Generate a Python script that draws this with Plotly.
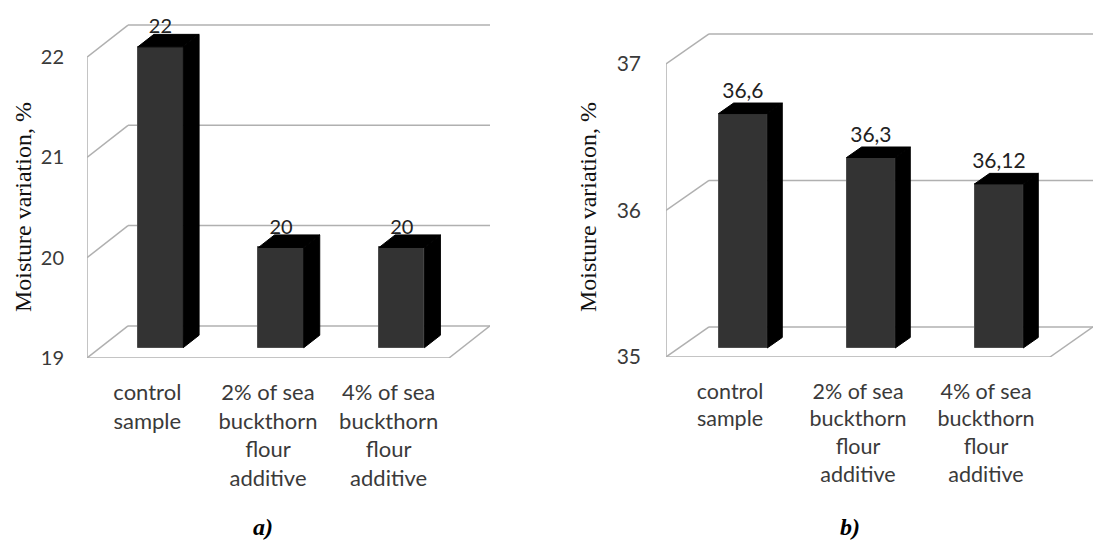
import plotly.graph_objects as go

# ---------------- data ----------------
categories = [
    "control<br>sample",
    "2% of sea<br>buckthorn<br>flour<br>additive",
    "4% of sea<br>buckthorn<br>flour<br>additive",
]
values_a = [22, 20, 20]
labels_a = ["22", "20", "20"]
ticks_a = [19, 20, 21, 22]

values_b = [36.6, 36.3, 36.12]
labels_b = ["36,6", "36,3", "36,12"]
ticks_b = [35, 36, 37]

captions = ["a)", "b)"]
axis_title = "Moisture variation, %"

W, H = 1098, 542
GRID = "#b0b0b0"
FRONT = "#333333"
SIDE = "#000000"
TXT = "#3a3a3a"
SANS = "Lato, 'Open Sans', sans-serif"
SERIF = "'Liberation Serif', 'Times New Roman', serif"

fig = go.Figure()

panels = [
    dict(vals=values_a, labs=labels_a, ticks=ticks_a, xa="x", ya="y",
         DX=0.34, DY=0.32, d0=0.32, d1=0.71, bw=0.375, lab_shift=-0.04,
         xdom=(87, 490), ypix=(7, 358), yr=(19, 22.5), lab_font=20, tick_font=20,
         cat_font=22, standoff_y=22, title_x=23, cap_x=263, cap_y=527),
    dict(vals=values_b, labs=labels_b, ticks=ticks_b, xa="x2", ya="y2",
         DX=0.336, DY=0.205, d0=0.30, d1=0.65, bw=0.38, lab_shift=0.0,
         xdom=(666, 1093), ypix=(20, 357), yr=(35, 37.3), lab_font=21, tick_font=21,
         cat_font=21.5, standoff_y=24, title_x=588, cap_x=850, cap_y=527),
]


def proj(x, y, d, p):
    return x + d * p["DX"], y + d * p["DY"]


def seg(p, a, b):
    fig.add_shape(type="line", xref=p["xa"], yref=p["ya"],
                  x0=a[0], y0=a[1], x1=b[0], y1=b[1],
                  line=dict(color=GRID, width=1.5), layer="below")


for p in panels:
    base = p["ticks"][0]
    top = p["ticks"][-1]
    n = len(p["vals"])
    x0, x1 = -0.5, n - 0.5

    # back wall gridlines and left wall diagonals
    for t in p["ticks"]:
        seg(p, (x0, t), proj(x0, t, 1, p))
        seg(p, proj(x0, t, 1, p), proj(x1, t, 1, p))
    # left wall front edge
    seg(p, (x0, base), (x0, top))
    # floor front edge + right diagonal
    seg(p, (x0, base), (x1, base))
    seg(p, (x1, base), proj(x1, base, 1, p))

    # bar front faces
    cx = [i + p["d0"] * p["DX"] for i in range(n)]
    fig.add_trace(go.Bar(x=cx, y=[v - base for v in p["vals"]],
                         base=base + p["d0"] * p["DY"], width=p["bw"],
                         xaxis=p["xa"], yaxis=p["ya"],
                         marker=dict(color=FRONT, line=dict(color="#4d4d4d", width=1)),
                         showlegend=False, hoverinfo="skip"))

    # side and top faces
    for i, v in enumerate(p["vals"]):
        xl, xr = i - p["bw"] / 2, i + p["bw"] / 2
        d0, d1 = p["d0"], p["d1"]
        side = [proj(xr, base, d0, p), proj(xr, v, d0, p), proj(xr, v, d1, p), proj(xr, base, d1, p)]
        topf = [proj(xl, v, d0, p), proj(xr, v, d0, p), proj(xr, v, d1, p), proj(xl, v, d1, p)]
        for poly in (side, topf):
            fig.add_trace(go.Scatter(x=[q[0] for q in poly] + [poly[0][0]],
                                     y=[q[1] for q in poly] + [poly[0][1]],
                                     mode="lines", fill="toself", fillcolor=SIDE,
                                     line=dict(color=SIDE, width=1),
                                     xaxis=p["xa"], yaxis=p["ya"],
                                     hoverinfo="skip", showlegend=False))

    # value labels
    lx = [i + p["d0"] * p["DX"] for i in range(n)]
    ly = [v + p["d1"] * p["DY"] + p["lab_shift"] for v in p["vals"]]
    fig.add_trace(go.Scatter(x=lx, y=ly, mode="text", text=p["labs"],
                             textposition="top center",
                             textfont=dict(family=SANS, size=p["lab_font"], color="#222222"),
                             xaxis=p["xa"], yaxis=p["ya"], hoverinfo="skip", showlegend=False))


def dom_x(px):
    return [px[0] / W, px[1] / W]


def dom_y(py):
    return [(H - py[1]) / H, (H - py[0]) / H]


for k, p in enumerate(panels):
    n = len(p["vals"])
    xkey = "xaxis" if k == 0 else "xaxis2"
    ykey = "yaxis" if k == 0 else "yaxis2"
    fig.update_layout({
        xkey: dict(domain=dom_x(p["xdom"]), range=[-0.5, n - 0.5 + p["DX"]],
                   anchor=p["ya"], showgrid=False, zeroline=False, showline=False,
                   tickmode="array", tickvals=list(range(n)), ticktext=categories,
                   ticks="", ticklabelstandoff=19,
                   tickfont=dict(family=SANS, size=p["cat_font"], color=TXT),
                   fixedrange=True),
        ykey: dict(domain=dom_y(p["ypix"]), range=list(p["yr"]), anchor=p["xa"],
                   showgrid=False, zeroline=False, showline=False,
                   tickmode="array", tickvals=p["ticks"], ticks="",
                   ticklabelstandoff=p["standoff_y"],
                   tickfont=dict(family=SANS, size=p["tick_font"], color=TXT),
                   fixedrange=True),
    })
    # axis title
    fig.add_annotation(x=p["title_x"] / W, y=(H - 207) / H, xref="paper", yref="paper",
                       text=axis_title, textangle=-90, showarrow=False,
                       xanchor="center", yanchor="middle",
                       font=dict(family=SERIF, size=24, color="#111111"))
    # caption
    fig.add_annotation(x=p["cap_x"] / W, y=(H - p["cap_y"]) / H, xref="paper", yref="paper",
                       text="<b><i>" + captions[k] + "</i></b>", showarrow=False,
                       xanchor="center", yanchor="middle",
                       font=dict(family=SERIF, size=24, color="#000000"))

fig.update_layout(width=W, height=H, margin=dict(l=0, r=0, t=0, b=0),
                  template="none", paper_bgcolor="white", plot_bgcolor="rgba(0,0,0,0)",
                  showlegend=False, bargap=0)

fig.write_html("out.html", config={"displayModeBar": False},
               post_script="document.body.style.margin='0';")
